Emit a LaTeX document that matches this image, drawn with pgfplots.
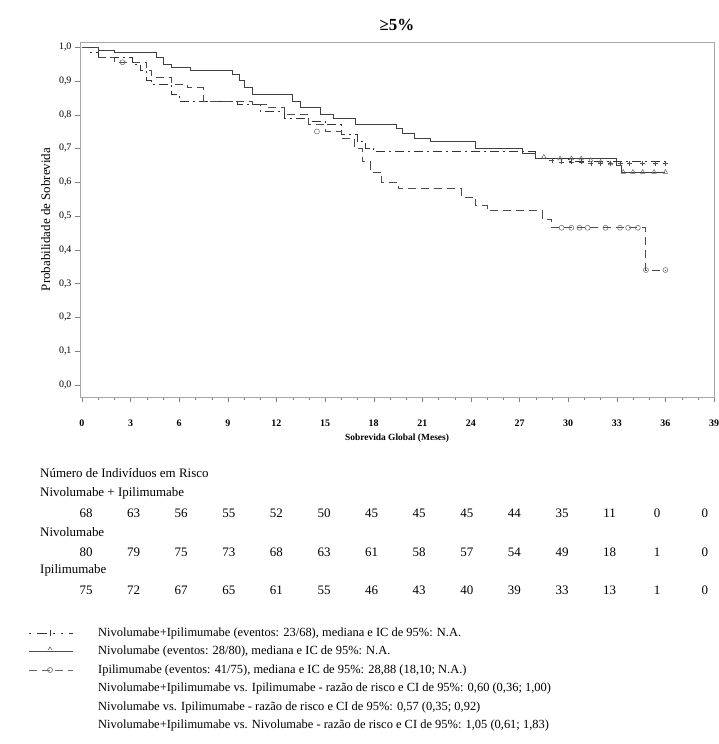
\documentclass[border=0pt]{standalone}
\usepackage{pgfplots}
\pgfplotsset{compat=1.18}
\usepackage{fontspec}
\setmainfont{Liberation Serif}
\begin{document}
\begin{tikzpicture}[x=1bp,y=1bp]
\useasboundingbox (0,0) rectangle (719,-744);
\begin{axis}[at={(80bp,-397bp)},anchor=south west,width=634bp,height=355bp,scale only axis,
 xmin=-0.12,xmax=39,ymin=-0.036,ymax=1.015,
 xtick={0,3,...,39},minor x tick num=2,ytick={0,0.1,...,1.0},
 tick align=outside,tick pos=left,major tick length=5bp,minor tick length=3bp,
 xticklabel style={font=\fontsize{10}{11}\selectfont\bfseries,yshift=-14bp,/pgf/number format/precision=0,/pgf/number format/fixed zerofill=false},
 yticklabel style={font=\fontsize{10}{11}\selectfont},
 /pgf/number format/assume math mode=true,
 /pgf/number format/.cd,fixed,fixed zerofill,precision=1,use comma,1000 sep={},/tikz/.cd,
 axis line style={gray!70,line width=1pt},
 title={\fontsize{17}{18}\selectfont\bfseries ≥5\%},title style={yshift=2bp},
 ylabel={\fontsize{13}{14}\selectfont Probabilidade de Sobrevida},ylabel style={yshift=2bp},
 xlabel={\fontsize{9.5}{10}\selectfont\bfseries Sobrevida Global (Meses)},xlabel style={yshift=-1bp},
 every axis plot/.append style={line width=0.9pt}]
\addplot[const plot,black!75,solid] coordinates {(0,1)(1,0.99)(2,0.985)(4.6,0.97)(5,0.95)(5.5,0.94)(6.7,0.93)(9.3,0.92)(9.7,0.90)(10,0.88)(10.5,0.86)(13,0.84)(13.5,0.82)(14.7,0.80)(15.5,0.79)(16.9,0.77)(19.4,0.76)(19.8,0.745)(20.5,0.73)(21.5,0.72)(24.3,0.70)(27.2,0.685)(28,0.67)(33,0.65)(33.3,0.63)(36,0.63)};
\addplot[const plot,black!80,dash pattern=on 9bp off 4bp on 2bp off 4bp] coordinates {(0,1)(0.5,0.985)(1,0.97)(3.1,0.95)(3.6,0.93)(4,0.90)(4.3,0.89)(5.5,0.86)(6,0.84)(9.6,0.83)(11,0.81)(12.5,0.79)(14,0.78)(15,0.77)(16,0.74)(17,0.72)(17.5,0.70)(18,0.69)(28,0.67)(30,0.66)(36,0.655)};
\addplot[const plot,black!70,dash pattern=on 8bp off 5bp] coordinates {(0,1)(1,0.97)(2,0.955)(4,0.93)(4.3,0.91)(5.5,0.89)(6.5,0.88)(7.5,0.84)(10.5,0.83)(11.5,0.82)(12.5,0.80)(14,0.77)(15,0.75)(16,0.73)(16.8,0.70)(17.3,0.66)(17.8,0.63)(18.5,0.60)(19.5,0.58)(23.4,0.555)(24.3,0.53)(25,0.515)(28.4,0.49)(29,0.465)(34.8,0.34)(36,0.34)};
\addplot[only marks,mark=triangle,mark size=2.5bp,black!60,line width=0.5pt] coordinates {(28.5,0.675)(29.5,0.67)(30.2,0.67)(30.8,0.67)(31.4,0.665)(32,0.66)(32.6,0.655)(33.4,0.63)(34,0.63)(34.6,0.63)(35.3,0.63)(36,0.63)};
\addplot[only marks,mark=+,mark size=2.5bp,black!70,line width=0.5pt] coordinates {(29,0.665)(29.6,0.66)(30.2,0.66)(30.8,0.66)(31.4,0.655)(32,0.655)(32.6,0.655)(33.2,0.655)(33.8,0.655)(34.6,0.655)(35.4,0.655)(36,0.655)};
\addplot[only marks,mark=o,mark size=2.5bp,black!60,line width=0.5pt] coordinates {(2.5,0.955)(14.5,0.75)(29.6,0.465)(30.2,0.465)(30.7,0.465)(31.2,0.465)(32.3,0.465)(33.2,0.465)(33.7,0.465)(34.3,0.465)(34.8,0.34)(36,0.34)};
\end{axis}
\begin{scope}[every node/.style={font=\fontsize{13}{14}\selectfont,inner sep=0pt}]
\node[anchor=west] at (40,-473) {Número de Indivíduos em Risco};
\node[anchor=west] at (40,-493) {Nivolumabe + Ipilimumabe};
\node[anchor=west] at (40,-532) {Nivolumabe};
\node[anchor=west] at (40,-570) {Ipilimumabe};
\foreach \a/\b/\c [count=\i from 0] in {68/80/75,63/79/72,56/75/67,55/73/65,52/68/61,50/63/55,45/61/46,45/58/43,45/57/40,44/54/39,35/49/33,11/18/13,0/1/1,0/0/0}{
 \pgfmathsetmacro\xx{86+\i*47.6}
 \node at (\xx,-513) {\a};
 \node at (\xx,-552) {\b};
 \node at (\xx,-590) {\c};
}
\end{scope}
\begin{scope}[every node/.style={font=\fontsize{12.5}{13}\selectfont,inner sep=0pt,anchor=west}]
\draw[black!80,line width=0.8pt,dash pattern=on 2bp off 6bp on 10bp off 6bp on 2bp off 6bp] (29,-633)--(73,-633);
\draw[black!80,line width=0.6pt] (50,-630)--(50,-636);
\draw[black!70,line width=0.8pt] (29,-651)--(73,-651);
\draw[black!60,line width=0.6pt] (48,-650)--(50,-647)--(52,-650);
\draw[black!60,line width=0.8pt,dash pattern=on 8bp off 5bp] (29,-670)--(73,-670);
\draw[black!60,line width=0.6pt] (50,-670) circle (2.5bp);
\node at (98,-633) {Nivolumabe+Ipilimumabe (eventos: 23/68), mediana e IC de 95\%: N.A.};
\node at (98,-651) {Nivolumabe (eventos: 28/80), mediana e IC de 95\%: N.A.};
\node at (98,-670) {Ipilimumabe (eventos: 41/75), mediana e IC de 95\%: 28,88 (18,10; N.A.)};
\node at (98,-688) {Nivolumabe+Ipilimumabe vs. Ipilimumabe - razão de risco e CI de 95\%: 0,60 (0,36; 1,00)};
\node at (98,-707) {Nivolumabe vs. Ipilimumabe - razão de risco e CI de 95\%: 0,57 (0,35; 0,92)};
\node at (98,-725) {Nivolumabe+Ipilimumabe vs. Nivolumabe - razão de risco e CI de 95\%: 1,05 (0,61; 1,83)};
\end{scope}
\end{tikzpicture}
\end{document}
